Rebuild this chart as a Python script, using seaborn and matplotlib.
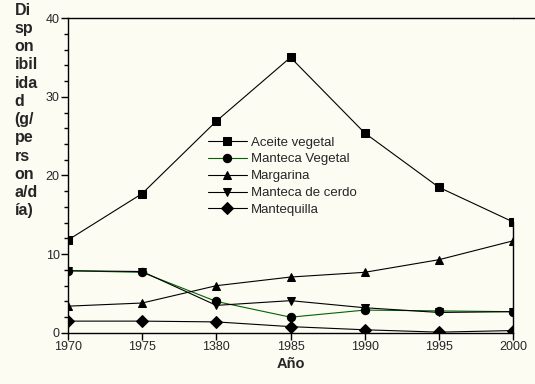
import matplotlib
matplotlib.use("Agg")
import matplotlib.pyplot as plt
import seaborn as sns
import pandas as pd
import numpy as np
from matplotlib.ticker import MultipleLocator
from matplotlib.lines import Line2D

years = ["1970", "1975", "1380", "1985", "1990", "1995", "2000"]
aceite_vegetal = [11.8, 17.7, 26.9, 35.0, 25.4, 18.5, 14.1]
manteca_vegetal = [7.9, 7.7, 4.0, 2.0, 2.9, 2.8, 2.7]
margarina = [3.4, 3.8, 6.0, 7.1, 7.7, 9.3, 11.7]
manteca_cerdo = [7.9, 7.8, 3.5, 4.1, 3.2, 2.6, 2.7]
mantequilla = [1.5, 1.5, 1.4, 0.8, 0.4, 0.1, 0.3]

series = {
    "Aceite vegetal": aceite_vegetal,
    "Manteca Vegetal": manteca_vegetal,
    "Margarina": margarina,
    "Manteca de cerdo": manteca_cerdo,
    "Mantequilla": mantequilla,
}
rows = []
for name, vals in series.items():
    for i, v in enumerate(vals):
        rows.append({"pos": i, "value": v, "serie": name})
df = pd.DataFrame(rows)

sns.set_style("white")
plt.rcParams["font.family"] = ["Liberation Sans", "DejaVu Sans"]

fig = plt.figure(figsize=(5.35, 3.84), dpi=100)
bg = "#fcfcf3"
fig.patch.set_facecolor(bg)
ax = fig.add_axes([0.127, 0.133, 0.832, 0.820])
ax.set_facecolor(bg)

palette = {
    "Aceite vegetal": "black",
    "Manteca Vegetal": "#006400",
    "Margarina": "black",
    "Manteca de cerdo": "black",
    "Mantequilla": "black",
}
markers = {
    "Aceite vegetal": "s",
    "Manteca Vegetal": "o",
    "Margarina": "^",
    "Manteca de cerdo": "v",
    "Mantequilla": "D",
}
sns.lineplot(data=df, x="pos", y="value", hue="serie", style="serie",
             palette=palette, markers=markers, dashes=False, ax=ax,
             linewidth=0.8, markersize=6, markerfacecolor="black",
             markeredgecolor="black", legend="full")

ax.set_xlim(0, len(years) - 1)
ax.set_ylim(0, 40)
ax.set_xticks(range(len(years)))
ax.set_xticklabels(years)
ax.yaxis.set_major_locator(MultipleLocator(10))
ax.yaxis.set_minor_locator(MultipleLocator(2))
ax.tick_params(axis="both", which="major", direction="out", length=5,
               width=1, color="black", labelsize=9, pad=1)
ax.tick_params(axis="y", which="minor", direction="out", length=3,
               width=1, color="black", left=True)
ax.tick_params(axis="x", which="major", bottom=True)
ax.tick_params(axis="y", left=True)

for s in ["left", "bottom", "top"]:
    ax.spines[s].set_visible(True)
    ax.spines[s].set_color("black")
    ax.spines[s].set_linewidth(1)
ax.spines["right"].set_visible(True)
ax.spines["right"].set_color("black")
ax.spines["right"].set_linewidth(1)
ax.spines["right"].set_bounds(0, aceite_vegetal[-1])

# top line continuing to the right edge of the figure
fig.add_artist(Line2D([0.959, 1.0], [0.953, 0.953], transform=fig.transFigure,
                      color="black", linewidth=1))

ax.set_xlabel("Año", fontsize=10.5, fontweight="bold", labelpad=3)
ax.set_ylabel("")
fig.text(0.027, 0.993,
         "Di\nsp\non\nibil\nida\nd\n(g/\npe\nrs\non\na/d\nía)",
         ha="left", va="top", fontsize=11.5, fontweight="bold",
         linespacing=1.27)

leg = ax.legend(loc="upper left", bbox_to_anchor=(0.388, 0.645),
                bbox_transform=fig.transFigure, frameon=False,
                fontsize=9.5, handlelength=3.0, handletextpad=0.3,
                labelspacing=0.35, borderpad=0, borderaxespad=0)
for h in leg.legend_handles:
    h.set_markerfacecolor("black")
    h.set_markeredgecolor("black")
    h.set_markersize(6)
    h.set_linewidth(0.8)

fig.savefig("out.png", dpi=100, facecolor=bg)
